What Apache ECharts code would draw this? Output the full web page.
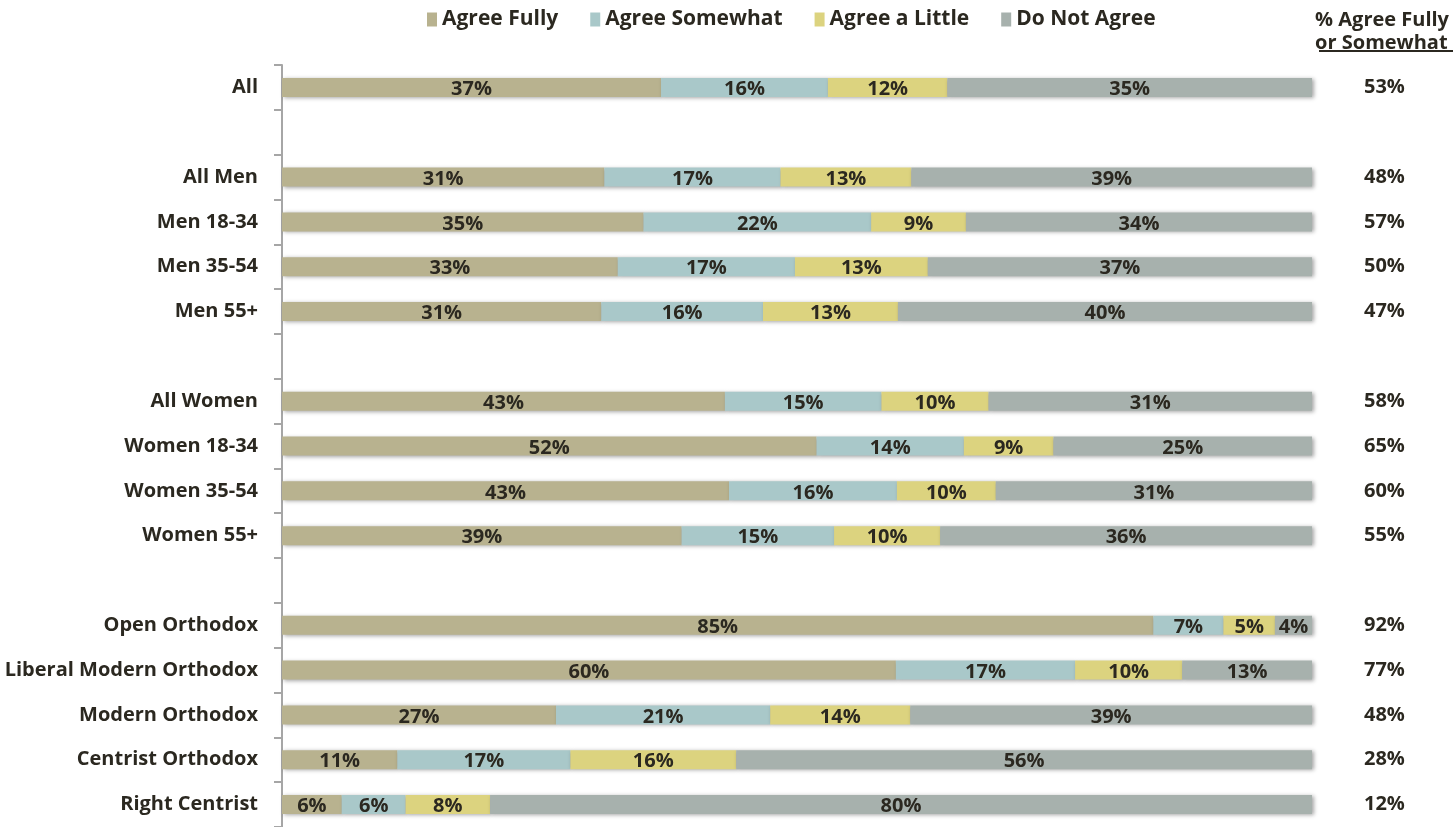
<!DOCTYPE html>
<html>
<head>
<meta charset="utf-8">
<script src="https://cdn.jsdelivr.net/npm/echarts@6/dist/echarts.min.js"></script>
<style>
html,body{margin:0;padding:0;background:#fff;}
#chart{width:1456px;height:827px;}
</style>
</head>
<body>
<div id="chart"></div>
<script>
const categories = ['All', ' ', 'All Men', 'Men 18-34', 'Men 35-54', 'Men 55+', '  ', 'All Women', 'Women 18-34', 'Women 35-54', 'Women 55+', '   ', 'Open Orthodox', 'Liberal Modern Orthodox', 'Modern Orthodox', 'Centrist Orthodox', 'Right Centrist'];
const seriesNames = ['Agree Fully', 'Agree Somewhat', 'Agree a Little', 'Do Not Agree'];
const agreeFully     = [36.8, null, 31.3, 35.1, 32.6, 31.0, null, 43.0, 51.9, 43.4, 38.8, null, 84.6, 59.6, 26.6, 11.2, 5.8];
const agreeSomewhat  = [16.2, null, 17.1, 22.1, 17.2, 15.7, null, 15.2, 14.3, 16.3, 14.8, null, 6.8, 17.4, 20.8, 16.8, 6.2];
const agreeALittle   = [11.6, null, 12.7, 9.2, 12.9, 13.1, null, 10.4, 8.7, 9.6, 10.3, null, 5.0, 10.4, 13.6, 16.1, 8.2];
const doNotAgree     = [35.4, null, 38.9, 33.6, 37.3, 40.2, null, 31.4, 25.1, 30.7, 36.1, null, 3.6, 12.6, 39.0, 55.9, 79.8];
const agreeFullyOrSomewhat = [53, null, 48, 57, 50, 47, null, 58, 65, 60, 55, null, 92, 77, 48, 28, 12];
const totalsHeader = '% Agree Fully\nor Somewhat';

const colors = ['#b8b28f', '#a9c8c9', '#dcd37f', '#a7b1ad'];
const textColor = '#2b2820';
const font = 'Open Sans';

const chart = echarts.init(document.getElementById('chart'));
const seriesData = [agreeFully, agreeSomewhat, agreeALittle, doNotAgree];

const series = seriesNames.map((name, i) => ({
  name: name,
  type: 'bar',
  stack: 'total',
  data: seriesData[i],
  barWidth: 19,
  itemStyle: {
    color: colors[i],
    shadowColor: 'rgba(0,0,0,0.35)',
    shadowBlur: 4,
    shadowOffsetX: 2,
    shadowOffsetY: 1
  },
  label: {
    show: true,
    position: 'inside',
    formatter: p => (p.value == null ? '' : Math.round(p.value) + '%'),
    fontFamily: font,
    fontWeight: 'bold',
    fontSize: 20,
    color: textColor,
    offset: [0, 2]
  },
  emphasis: { disabled: true }
}));

chart.setOption({
  animation: false,
  backgroundColor: '#fff',
  textStyle: { fontFamily: font },
  title: {
    text: totalsHeader,
    right: 2,
    top: 4,
    textStyle: { fontFamily: font, fontWeight: 'bold', fontSize: 20, color: textColor, lineHeight: 23 }
  },
  legend: {
    data: seriesNames,
    left: 422,
    top: 4,
    icon: 'rect',
    itemWidth: 10,
    itemHeight: 14,
    itemGap: 32,
    textStyle: { fontFamily: font, fontWeight: 'bold', fontSize: 21, color: textColor }
  },
  grid: { left: 282, top: 65, width: 1030, height: 765, containLabel: false },
  xAxis: { type: 'value', min: 0, max: 100, show: false },
  yAxis: [
    {
      type: 'category',
      data: categories,
      inverse: true,
      axisLine: { show: true, lineStyle: { color: '#a6a6a6', width: 2 } },
      axisTick: { show: true, length: 8, lineStyle: { color: '#a6a6a6', width: 2 } },
      axisLabel: { margin: 24, padding: [4, 0, 0, 0], fontFamily: font, fontWeight: 'bold', fontSize: 20, color: textColor }
    },
    {
      type: 'category',
      data: categories,
      inverse: true,
      position: 'right',
      axisLine: { show: false },
      axisTick: { show: false },
      axisLabel: {
        margin: 52,
        align: 'left',
        padding: [2, 0, 0, 0],
        fontFamily: font, fontWeight: 'bold', fontSize: 20, color: textColor,
        formatter: (v, idx) => (agreeFullyOrSomewhat[idx] == null ? '' : agreeFullyOrSomewhat[idx] + '%')
      }
    }
  ],
  graphic: [
    { type: 'line', shape: { x1: 1319, y1: 51, x2: 1453, y2: 51 }, style: { stroke: textColor, lineWidth: 2 } }
  ],
  series: series
});
</script>
</body>
</html>
